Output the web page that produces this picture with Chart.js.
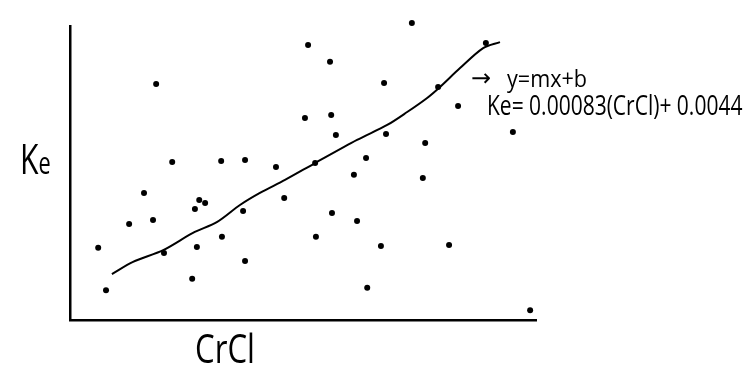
<!DOCTYPE html>
<html>
<head>
<meta charset="utf-8">
<script src="https://cdn.jsdelivr.net/npm/chart.js@4"></script>
<style>
  body { margin: 0; background: #fff; }
  #wrap { position: relative; width: 756px; height: 378px; }
  canvas { position: absolute; left: 0; top: 0; }
  .lbl { position: absolute; font-family: "Open Sans", sans-serif; font-weight: 400; color: #000;
         line-height: 1; white-space: nowrap; transform-origin: left top; }
</style>
</head>
<body>
<div id="wrap">
  <canvas id="c" width="756" height="378"></canvas>
  <div class="lbl" id="yTitle" style="left:20px;top:137px;font-size:42px;transform:scaleX(0.72)">K<span style="font-size:0.72em">e</span></div>
  <div class="lbl" id="xTitle" style="left:195px;top:328px;font-size:40px;transform:scaleX(0.78)">CrCl</div>
  <div class="lbl" id="arrow" style="left:471px;top:66px;font-size:24px;font-family:'DejaVu Sans'">→</div>
  <div class="lbl" id="eq1" style="left:507px;top:66px;font-size:24px;transform:scaleX(0.9)">y=mx+b</div>
  <div class="lbl" id="eq2" style="left:487px;top:90px;font-size:28px;transform:scaleX(0.75)">Ke= 0.00083(CrCl)+ 0.0044</div>
</div>
<script>
// creatinine clearance (x) and elimination constant (y)
const crcl = [61.8, 23.0, 61.0, 27.1, 39.6, 45.7, 53.6, 88.3, 67.4, 107.2, 81.2, 95.0,
  100.1, 114.1, 67.7, 68.9, 81.7, 91.7, 63.6, 76.6, 73.5, 91.1, 19.9, 34.0, 35.5, 32.9,
  16.1, 22.2, 55.7, 45.2, 39.8, 8.2, 33.4, 25.0, 45.7, 32.2, 10.2, 67.9, 74.3, 63.8,
  80.4, 97.8, 76.9, 118.5];
const ke = [0.0956, 0.0817, 0.0697, 0.0541, 0.0544, 0.0548, 0.0523, 0.1034, 0.0896, 0.0963,
  0.0821, 0.0807, 0.0739, 0.0647, 0.0707, 0.0636, 0.0640, 0.0608, 0.0537, 0.0555, 0.0495,
  0.0484, 0.0431, 0.0406, 0.0395, 0.0374, 0.0321, 0.0335, 0.0413, 0.0367, 0.0275, 0.0236,
  0.0239, 0.0218, 0.0189, 0.0126, 0.0086, 0.0360, 0.0331, 0.0275, 0.0243, 0.0246, 0.0094,
  0.0015];

// hand drawn fit line, traced along its length
const fitX = [11.7, 17.1, 24.8, 32.4, 38.6, 44.4, 49.5, 55.9, 63.6, 74.3, 82.0, 87.1,
  92.2, 95.5, 100.6, 106.5, 110.8];
const fitY = [0.0143, 0.0186, 0.0228, 0.0289, 0.0328, 0.0388, 0.0431, 0.0477, 0.0537,
  0.0619, 0.0672, 0.0718, 0.0768, 0.0807, 0.0874, 0.0945, 0.0966];

const pts = crcl.map((x, i) => ({ x, y: ke[i] }));
const fit = fitX.map((x, i) => ({ x, y: fitY[i] }));

new Chart(document.getElementById('c'), {
  type: 'scatter',
  data: {
    datasets: [
      {
        data: pts,
        pointRadius: 3,
        pointBackgroundColor: '#000',
        pointBorderWidth: 0,
        clip: false
      },
      {
        type: 'line',
        data: fit,
        showLine: true,
        borderColor: '#000',
        borderWidth: 2,
        pointRadius: 0,
        tension: 0.3,
        fill: false,
        clip: false
      }
    ]
  },
  options: {
    responsive: false,
    animation: false,
    layout: { padding: { left: 70, right: 220, top: 26, bottom: 58 } },
    plugins: { legend: { display: false }, tooltip: { enabled: false } },
    scales: {
      x: {
        type: 'linear', min: 1, max: 120,
        grid: { display: false, drawTicks: false },
        ticks: { display: false },
        border: { display: true, color: '#000', width: 2.5 }
      },
      y: {
        type: 'linear', min: -0.002, max: 0.10232,
        grid: { display: false, drawTicks: false },
        ticks: { display: false },
        border: { display: true, color: '#000', width: 2.5 }
      }
    }
  }
});
</script>
</body>
</html>
